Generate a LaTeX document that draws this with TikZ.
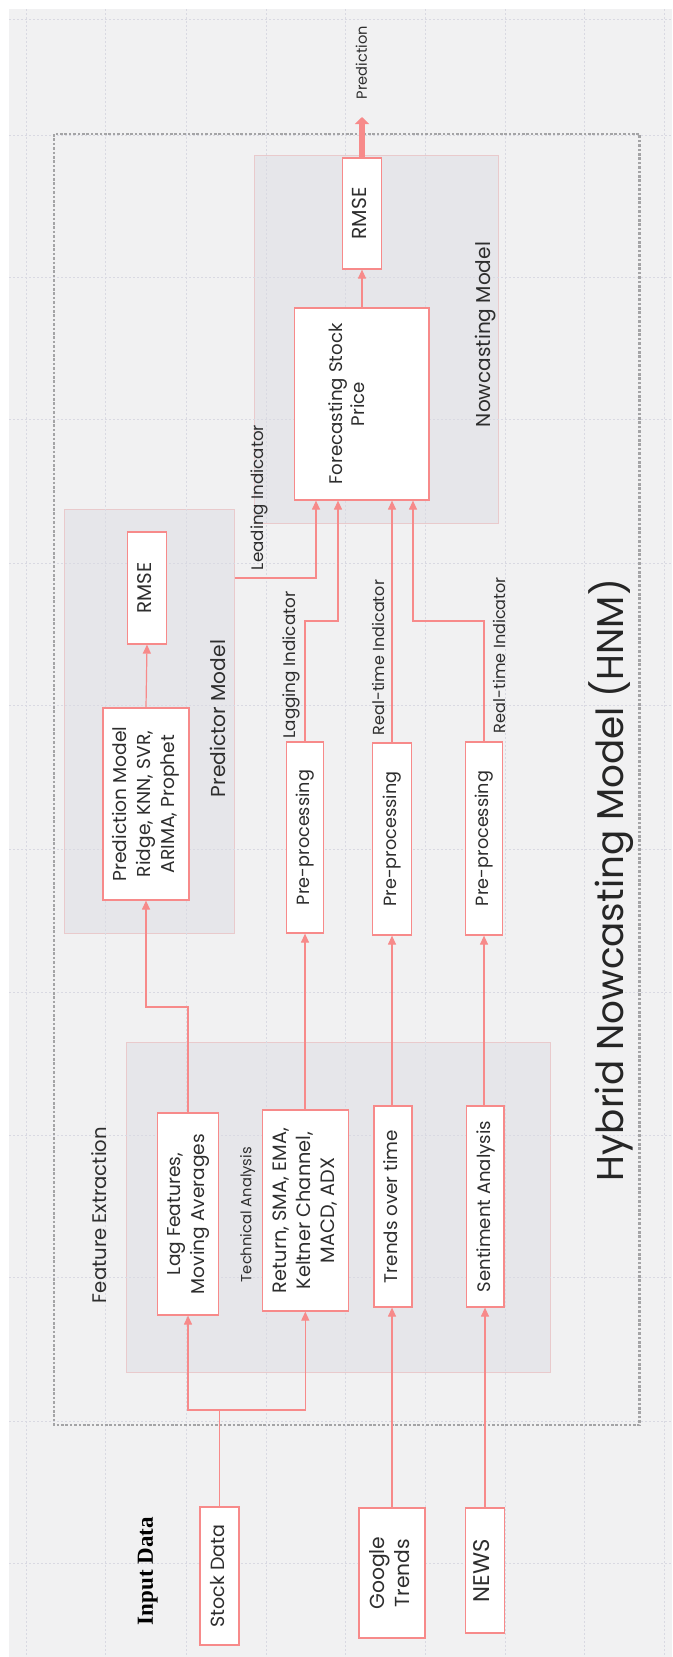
\documentclass[tikz,border=0pt]{standalone}
\usepackage{fontspec}
\usepackage{graphicx}
\setmainfont{Poppins}
\newfontfamily\inputfont{Liberation Serif}
\usetikzlibrary{arrows.meta}
\definecolor{bgc}{HTML}{F1F1F2}
\definecolor{gridc}{HTML}{D9D9E2}
\definecolor{grpfill}{HTML}{E6E6EA}
\definecolor{grpline}{HTML}{E9CACC}
\definecolor{boxc}{HTML}{F78A8A}
\definecolor{linec}{HTML}{F78A8A}
\definecolor{hnmc}{HTML}{A4A4A6}
\definecolor{textc}{HTML}{2E2E2E}
\newlength\tmplen
% #1 baselineskip, #2 target length of reference line, #3 reference line, #4 content
\newcommand{\rtx}[4][24]{%
  \settowidth\tmplen{\fontsize{10}{12}\selectfont #3}%
  \pgfmathsetmacro\fsz{10*#2/\tmplen}%
  \rotatebox{90}{\fontsize{\fsz}{#1}\selectfont\begin{tabular}{@{}c@{}}#4\end{tabular}}}
\tikzset{
  boxnode/.style={draw=boxc, fill=white, line width=1.2pt, inner sep=0pt, text=textc},
  grpnode/.style={draw=grpline, fill=grpfill, line width=0.8pt, inner sep=0pt},
  conn/.style={draw=linec, line width=1.2pt, -{Triangle[length=9pt,width=8pt]}},
  plainconn/.style={draw=linec, line width=1.2pt},
  lbl/.style={text=textc, inner sep=0pt},
  gridline/.style={draw=gridc, line width=0.8pt, dash pattern=on 1.5pt off 2.5pt},
}
\begin{document}
\begin{tikzpicture}[x=1pt,y=-1pt]
\useasboundingbox (0,0) rectangle (672,1657);
\fill[white] (0,0) rectangle (672,1657);
\fill[bgc] (9,9) rectangle (672,1657);
% groups
\node[grpnode, minimum width=244.5pt, minimum height=368pt] (ng) at (376.25,339) {};
\node[grpnode, minimum width=170.5pt, minimum height=424pt] (pg) at (149.25,721) {};
\node[grpnode, minimum width=424pt, minimum height=330pt] (fg) at (338,1207) {};
% grid
\foreach \gx in {26,105,186,266,345,425,505,584,664}
  \draw[gridline] (\gx,9) -- (\gx,1657);
\foreach \gy in {19,135,277,419,563,705,849,992,1135,1277,1421,1563}
  \draw[gridline] (9,\gy) -- (672,\gy);
% HNM border
\draw[hnmc, line width=2.6pt, dash pattern=on 2.6pt off 1.8pt] (54,134) rectangle (639.5,1425);
% group labels
\node[lbl] (ngl) at (486,334.5) {\rtx{185}{Nowcasting Model}{Nowcasting Model}};
\node[lbl] (pgl) at (221,718.5) {\rtx{157}{Predictor Model}{Predictor Model}};
\node[lbl] (fgl) at (102,1215) {\rtx{176}{Feature Extraction}{Feature Extraction}};
\node[lbl, text=black!85] (title) at (611,880) {\rtx{602}{Hybrid Nowcasting Model (HNM)}{Hybrid Nowcasting Model (HNM)}};
\node[lbl, text=black, font=\inputfont\bfseries] (inl) at (148,1571) {\rtx{108}{Input Data}{Input Data}};
\node[lbl] (tal) at (246.5,1214.5) {\rtx{135}{Technical Analysis}{Technical Analysis}};
% boxes
\node[boxnode, minimum width=38.5pt, minimum height=111pt] (rmseb) at (362,213.5) {\rtx{52}{RMSE}{RMSE}};
\node[boxnode, minimum width=134.5pt, minimum height=192pt] (fsp) at (361.75,404) {};
\node[lbl] (fspt) at (349,404) {\rtx[22]{161}{Forecasting Stock}{Forecasting Stock\\Price}};
\node[boxnode, minimum width=39pt, minimum height=112pt] (rmsea) at (147,588) {\rtx{51}{RMSE}{RMSE}};
\node[boxnode, minimum width=86pt, minimum height=192pt] (pm) at (146,804) {\rtx{155}{Prediction Model}{Prediction Model\\Ridge, KNN, SVR,\\ARIMA, Prophet}};
\node[boxnode, minimum width=37.6pt, minimum height=191pt] (ppa) at (305,837.5) {\rtx{135}{Pre-processing}{Pre-processing}};
\node[boxnode, minimum width=38.5pt, minimum height=192pt] (ppb) at (392,839) {\rtx{135}{Pre-processing}{Pre-processing}};
\node[boxnode, minimum width=36.5pt, minimum height=193pt] (ppc) at (484,838.5) {\rtx{135}{Pre-processing}{Pre-processing}};
\node[boxnode, minimum width=61.6pt, minimum height=202pt] (lag) at (188,1214) {\rtx{160}{Moving Averages}{Lag Features,\\Moving Averages}};
\node[boxnode, minimum width=86pt, minimum height=201pt] (ret) at (305.3,1210.5) {\rtx{165}{Return, SMA, EMA,}{Return, SMA, EMA,\\Keltner Channel,\\MACD, ADX}};
\node[boxnode, minimum width=38pt, minimum height=201pt] (trd) at (393,1206.5) {\rtx{153}{Trends over time}{Trends over time}};
\node[boxnode, minimum width=37.3pt, minimum height=201pt] (sen) at (485.3,1206.5) {\rtx{171}{Sentiment Analysis}{Sentiment Analysis}};
\node[boxnode, minimum width=39pt, minimum height=138pt] (stock) at (219.5,1576) {\rtx{103}{Stock Data}{Stock Data}};
\node[boxnode, minimum width=66pt, minimum height=130pt] (goog) at (392,1573) {\rtx[25.5]{73}{Google}{Google\\Trends}};
\node[boxnode, minimum width=39.5pt, minimum height=125pt] (news) at (485,1570.5) {\rtx{63}{NEWS}{NEWS}};
% coordinates
\coordinate (predend) at (362,117);
\coordinate (lead) at (316,578);
\coordinate (lagbend) at (338,621);
\coordinate (rtbend) at (413,621);
\coordinate (lpbend) at (146,1007);
\coordinate (sj) at (219.5,1410);
% connectors
\draw[draw=linec, line width=5.5pt, -{Triangle[length=7pt,width=14pt]}] (rmseb.north) -- (predend);
\node[lbl] (predl) at (362,62.5) {\rtx{73}{Prediction}{Prediction}};
\draw[conn] (fsp.north -| rmseb) -- (rmseb.south);
\draw[conn] (pm.north) -- (rmsea.south);
\draw[conn] (pg.east |- lead) -- (lead) -- (lead |- fsp.south);
\node[lbl] (leadl) at (259,497.5) {\rtx{145}{Leading Indicator}{Leading Indicator}};
\draw[conn] (ppa.north) |- (lagbend) -- (lagbend |- fsp.south);
\node[lbl] (lagl) at (291,665) {\rtx{147}{Lagging Indicator}{Lagging Indicator}};
\draw[conn] (ppb.north) -- (ppb.north |- fsp.south);
\node[lbl] (rtal) at (380,657.5) {\rtx{155}{Real-time Indicator}{Real-time Indicator}};
\draw[conn] (ppc.north) |- (rtbend) -- (rtbend |- fsp.south);
\node[lbl] (rtbl) at (500.6,655) {\rtx{156}{Real-time Indicator}{Real-time Indicator}};
\draw[conn] (lag.north) |- (lpbend) -- (lpbend |- pm.south);
\draw[conn] (ret.north -| ppa) -- (ppa.south);
\draw[conn] (trd.north -| ppb) -- (ppb.south);
\draw[conn] (sen.north -| ppc) -- (ppc.south);
\draw[plainconn] (stock.north) -- (sj);
\draw[conn] (sj) -| (lag.south);
\draw[conn] (sj) -| (ret.south);
\draw[conn] (goog.north) -- (goog.north |- trd.south);
\draw[conn] (news.north) -- (news.north |- sen.south);
\end{tikzpicture}
\end{document}
